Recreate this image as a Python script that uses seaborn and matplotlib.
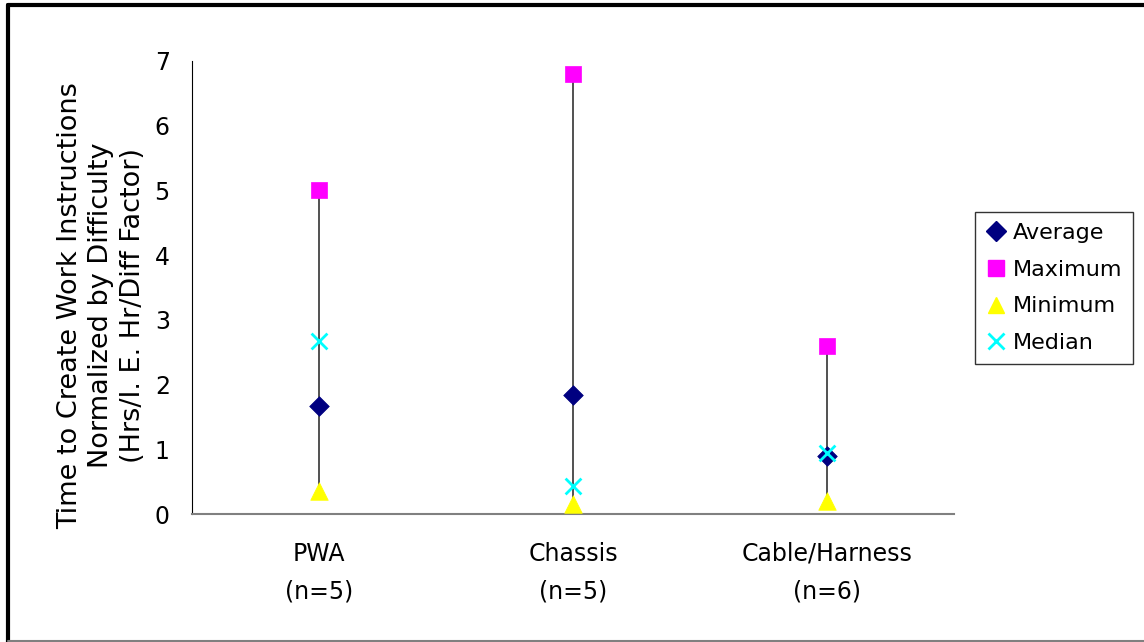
import numpy as np
import pandas as pd
import matplotlib
matplotlib.use("Agg")
import matplotlib.pyplot as plt
from matplotlib.lines import Line2D
import seaborn as sns

# ==============================
# Data
# ==============================
categories = ["PWA", "Chassis", "Cable/Harness"]
sample_sizes = [5, 5, 6]
average = [1.67, 1.84, 0.90]
maximum = [5.0, 6.8, 2.6]
minimum = [0.35, 0.15, 0.20]
median = [2.67, 0.44, 0.94]

series_names = ["Average", "Maximum", "Minimum", "Median"]
series_values = [average, maximum, minimum, median]
series_colors = ["#000080", "#FF00FF", "#FFFF00", "#00FFFF"]
series_markers = ["D", "s", "^", "x"]
series_sizes = [100, 130, 160, 130]

pos = np.arange(len(categories)) + 0.5
rows = []
for name, vals in zip(series_names, series_values):
    for p, v in zip(pos, vals):
        rows.append({"pos": p, "value": v, "series": name})
df = pd.DataFrame(rows)

# ==============================
# Plot
# ==============================
sns.set_style("white")
plt.rcParams['font.family'] = ['DejaVu Sans']
plt.rcParams['text.color'] = 'black'
FS = 17

fig = plt.figure(figsize=(11.44, 6.42), dpi=100)
ax = fig.add_axes([192 / 1144, 1 - 514 / 642, 762 / 1144, 453 / 642])

# high-low lines
ax.vlines(pos, minimum, maximum, color="#222222", lw=1.1, zorder=1)

for name, col, mk, sz in zip(series_names, series_colors, series_markers, series_sizes):
    sub = df[df["series"] == name]
    kw = dict(linewidth=2) if mk == "x" else dict(edgecolor=col, linewidth=0.5)
    sns.scatterplot(data=sub, x="pos", y="value", color=col, marker=mk, s=sz,
                    ax=ax, zorder=3, legend=False, **kw)

ax.set_xlim(0, 3)
ax.set_ylim(0, 7)
ax.set_yticks(range(0, 8))
ax.tick_params(axis="y", direction="inout", length=12, width=1, labelsize=FS,
               pad=10, colors="black")

ax.set_xticks(pos)
ax.set_xticklabels([f"{c}\n({'n='}{n})" for c, n in zip(categories, sample_sizes)],
                   linespacing=1.72)
ax.set_xticks(np.arange(0, 4), minor=True)
ax.tick_params(axis="x", which="major", length=0, labelsize=FS, pad=20,
               labelcolor="black")
ax.tick_params(axis="x", which="minor", direction="inout", length=12, width=1,
               color="#222222")

for s in ["top", "right"]:
    ax.spines[s].set_visible(False)
ax.spines["left"].set_color("black")
ax.spines["bottom"].set_color("#808080")
ax.spines["bottom"].set_linewidth(1.5)

ax.set_xlabel("")
ax.set_ylabel("Time to Create Work Instructions\nNormalized by Difficulty\n(Hrs/I. E. Hr/Diff Factor)",
              fontsize=19.5, linespacing=1.27, color="black")
ax.yaxis.set_label_coords(-0.061, 0.461)

handles = []
for name, col, mk in zip(series_names, series_colors, series_markers):
    if mk == "x":
        h = Line2D([], [], ls="none", marker=mk, color=col, markersize=12, markeredgewidth=2)
    else:
        h = Line2D([], [], ls="none", marker=mk, color=col, markersize=11 if mk != "D" else 10,
                   markeredgecolor=col)
    handles.append(h)
leg = fig.legend(handles, series_names, loc="upper left",
                 bbox_to_anchor=(975 / 1144, 1 - 212 / 642), fontsize=16,
                 frameon=True, fancybox=False, edgecolor="black", handlelength=0.9,
                 handletextpad=0.3, borderpad=0.5, labelspacing=0.75, borderaxespad=0)
leg.get_frame().set_linewidth(1)

# outer chart border
fig.add_artist(Line2D([8 / 1144, 8 / 1144], [0, 1 - 5 / 642], transform=fig.transFigure,
                      color="black", lw=3))
fig.add_artist(Line2D([8 / 1144, 1], [1 - 5 / 642, 1 - 5 / 642], transform=fig.transFigure,
                      color="black", lw=3))
fig.add_artist(Line2D([8 / 1144, 1], [1 / 642, 1 / 642], transform=fig.transFigure,
                      color="#808080", lw=1.5))

fig.savefig("out.png", dpi=100, facecolor="white")
